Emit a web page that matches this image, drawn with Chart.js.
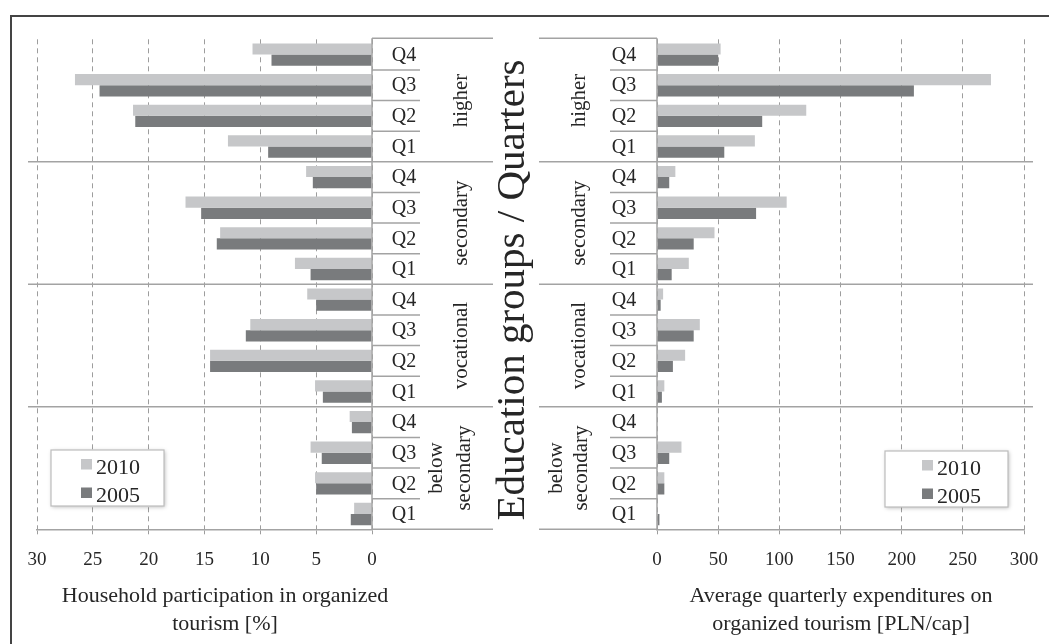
<!DOCTYPE html>
<html>
<head>
<meta charset="utf-8">
<title>Organized tourism by education group</title>
<script src="https://cdn.jsdelivr.net/npm/chart.js@4/dist/chart.umd.min.js"></script>
<style>
  html, body { margin: 0; padding: 0; background: #fff; }
  #wrap { position: relative; width: 1049px; height: 644px; overflow: hidden; background: #fff; }
  #wrap canvas { position: absolute; left: 0; top: 0; }
  #frame { position: absolute; left: 10px; top: 15px; width: 1060px; height: 660px;
           border-left: 2px solid #444; border-top: 2px solid #444; box-sizing: border-box; }
</style>
</head>
<body>
<div id="wrap">
  <div id="frame"></div>
  <canvas id="leftChart" width="1049" height="644"></canvas>
  <canvas id="rightChart" width="1049" height="644"></canvas>
</div>
<script>
// ---- data (rows run top to bottom: group, then Q4..Q1) ----
const groups = ['higher', 'secondary', 'vocational', 'below secondary'];
const groupLines = [['higher'], ['secondary'], ['vocational'], ['below', 'secondary']];
const quarters = ['Q4', 'Q3', 'Q2', 'Q1'];
const years = ['2010', '2005'];

// household participation in organized tourism [%]
const participation2010 = [10.7, 26.6, 21.4, 12.9,  5.9, 16.7, 13.6, 6.9,  5.8, 10.9, 14.5, 5.1,  2.0, 5.5, 5.1, 1.6];
const participation2005 = [ 9.0, 24.4, 21.2,  9.3,  5.3, 15.3, 13.9, 5.5,  5.0, 11.3, 14.5, 4.4,  1.8, 4.5, 5.0, 1.9];

// average quarterly expenditures on organized tourism [PLN/cap]
const expenditure2010 = [52, 273, 122, 80,  15, 106, 47, 26,  5, 35, 23, 6,  0, 20, 6, 0];
const expenditure2005 = [50, 210,  86, 55,  10,  81, 30, 12,  3, 30, 13, 4,  0, 10, 6, 2];

const participationTicks = { min: 0, max: 30, step: 5 };
const expenditureTicks = { min: 0, max: 300, step: 50 };

const participationTitle = ['Household participation in organized', 'tourism [%]'];
const expenditureTitle = ['Average quarterly expenditures on', 'organized tourism [PLN/cap]'];
const centreTitle = 'Education groups / Quarters';

// ---- styling ----
const SERIF = '"Liberation Serif", "DejaVu Serif", serif';
const TEXT = '#262626';
const GRID = '#9d9d9d';
const LINE = '#a3a3a3';
const LIGHT = '#c6c7c9';
const DARK = '#797b7d';

const rowLabels = [];
groups.forEach(() => quarters.forEach(q => rowLabels.push(q)));

function datasets(a, b) {
  return [
    { label: years[0], data: a, backgroundColor: LIGHT, categoryPercentage: 0.73, barPercentage: 1.0 },
    { label: years[1], data: b, backgroundColor: DARK, categoryPercentage: 0.73, barPercentage: 1.0 }
  ];
}

function valueScale(range, reverse) {
  return {
    type: 'linear',
    position: 'bottom',
    reverse: reverse,
    min: range.min,
    max: range.max,
    grid: { color: GRID, lineWidth: 1, drawTicks: true, tickLength: 5, tickColor: GRID },
    border: { display: true, color: LINE, width: 1.5, dash: [5, 4] },
    ticks: { stepSize: range.step, color: TEXT, font: { family: SERIF, size: 19 },
             padding: 14, maxRotation: 0, autoSkip: false },
    afterFit(scale) { scale.height = 644 - 529.3; scale.paddingLeft = 0; scale.paddingRight = 0; }
  };
}

function rowScale() {
  return { type: 'category', labels: rowLabels, display: false, offset: true };
}

// category row geometry from the category scale
function rows(chart) {
  const y = chart.scales.y;
  const step = y.getPixelForValue(1) - y.getPixelForValue(0);
  const top = y.getPixelForValue(0) - step / 2;
  return { top, step, n: rowLabels.length };
}

function line(ctx, x1, y1, x2, y2) {
  ctx.beginPath(); ctx.moveTo(x1, y1); ctx.lineTo(x2, y2); ctx.stroke();
}

// two-line axis title under a panel
function axisTitle(lines, cx) {
  return {
    id: 'axisTitle',
    afterDraw(chart) {
      const ctx = chart.ctx;
      ctx.save();
      ctx.fillStyle = TEXT;
      ctx.font = '22px ' + SERIF;
      ctx.textAlign = 'center';
      ctx.textBaseline = 'alphabetic';
      lines.forEach((t, i) => ctx.fillText(t, cx, 601.5 + i * 28.5));
      ctx.restore();
    }
  };
}

// boxed legend built from the dataset labels and colours
function boxLegend(box) {
  return {
    id: 'boxLegend',
    afterDraw(chart) {
      const ctx = chart.ctx;
      ctx.save();
      ctx.shadowColor = 'rgba(0,0,0,0.28)';
      ctx.shadowBlur = 4;
      ctx.shadowOffsetX = 1;
      ctx.shadowOffsetY = 1;
      ctx.fillStyle = '#fff';
      ctx.fillRect(box.x, box.y, box.w, box.h);
      ctx.shadowColor = 'transparent';
      ctx.strokeStyle = '#bdbdbd';
      ctx.lineWidth = 1.2;
      ctx.strokeRect(box.x, box.y, box.w, box.h);
      ctx.font = '22px ' + SERIF;
      ctx.textAlign = 'left';
      ctx.textBaseline = 'middle';
      chart.data.datasets.forEach((ds, i) => {
        const cy = box.y + 17 + i * 28.5;
        ctx.fillStyle = ds.backgroundColor;
        ctx.fillRect(box.sx, cy - 8, 11, 10.5);
        ctx.fillStyle = TEXT;
        ctx.fillText(ds.label, box.sx + 15, cy + 1);
      });
      ctx.restore();
    }
  };
}

// row table to the right of the participation panel + centre title
const leftTable = {
  id: 'leftTable',
  afterDraw(chart) {
    const ctx = chart.ctx;
    const area = chart.chartArea;
    const r = rows(chart);
    const x0 = area.right;
    const xEnd = x0 + 121;
    const bottom = r.top + r.n * r.step;
    ctx.save();
    ctx.strokeStyle = LINE;
    ctx.lineWidth = 1.5;
    line(ctx, x0, r.top - 1, x0, bottom);
    line(ctx, x0, r.top - 1, xEnd, r.top - 1);
    line(ctx, x0, bottom, xEnd, bottom);
    for (let k = 1; k < r.n; k++) {
      const yy = r.top + k * r.step;
      if (k % quarters.length === 0) line(ctx, area.left - 9, yy, xEnd, yy);
      else line(ctx, x0, yy, x0 + 48, yy);
    }
    ctx.fillStyle = TEXT;
    ctx.font = '20px ' + SERIF;
    ctx.textAlign = 'center';
    ctx.textBaseline = 'middle';
    rowLabels.forEach((q, i) => ctx.fillText(q, x0 + 32, r.top + (i + 0.5) * r.step + 1));
    ctx.font = '21px ' + SERIF;
    ctx.textBaseline = 'alphabetic';
    groupLines.forEach((lines, g) => {
      const cy = r.top + (g + 0.5) * quarters.length * r.step;
      lines.forEach((t, j) => {
        const bx = lines.length === 1 ? x0 + 95 : x0 + 70 + j * 28;
        ctx.save();
        ctx.translate(bx, cy);
        ctx.rotate(-Math.PI / 2);
        ctx.fillText(t, 0, 0);
        ctx.restore();
      });
    });
    ctx.font = '41px ' + SERIF;
    ctx.save();
    ctx.translate(524, 290);
    ctx.rotate(-Math.PI / 2);
    ctx.fillText(centreTitle, 0, 0);
    ctx.restore();
    ctx.restore();
  }
};

// row table to the left of the expenditure panel
const rightTable = {
  id: 'rightTable',
  afterDraw(chart) {
    const ctx = chart.ctx;
    const area = chart.chartArea;
    const r = rows(chart);
    const x0 = area.left;
    const xStart = x0 - 118;
    const bottom = r.top + r.n * r.step;
    ctx.save();
    ctx.strokeStyle = LINE;
    ctx.lineWidth = 1.5;
    line(ctx, x0, r.top - 1, x0, bottom);
    line(ctx, xStart, r.top - 1, x0, r.top - 1);
    line(ctx, xStart, bottom, x0, bottom);
    for (let k = 1; k < r.n; k++) {
      const yy = r.top + k * r.step;
      if (k % quarters.length === 0) line(ctx, xStart, yy, area.right + 9, yy);
      else line(ctx, x0 - 47, yy, x0, yy);
    }
    ctx.fillStyle = TEXT;
    ctx.font = '20px ' + SERIF;
    ctx.textAlign = 'center';
    ctx.textBaseline = 'middle';
    rowLabels.forEach((q, i) => ctx.fillText(q, x0 - 33, r.top + (i + 0.5) * r.step + 1));
    ctx.font = '21px ' + SERIF;
    ctx.textBaseline = 'alphabetic';
    groupLines.forEach((lines, g) => {
      const cy = r.top + (g + 0.5) * quarters.length * r.step;
      lines.forEach((t, j) => {
        const bx = lines.length === 1 ? x0 - 72 : x0 - 95 + j * 25;
        ctx.save();
        ctx.translate(bx, cy);
        ctx.rotate(-Math.PI / 2);
        ctx.fillText(t, 0, 0);
        ctx.restore();
      });
    });
    ctx.restore();
  }
};

const common = {
  indexAxis: 'y',
  responsive: false,
  animation: false,
  events: [],
  plugins: { legend: { display: false }, tooltip: { enabled: false } }
};

new Chart(document.getElementById('leftChart'), {
  type: 'bar',
  data: { labels: rowLabels, datasets: datasets(participation2010, participation2005) },
  options: Object.assign({}, common, {
    layout: { padding: { left: 37, right: 1049 - 372, top: 39.3, bottom: 0 } },
    scales: { x: valueScale(participationTicks, true), y: rowScale() }
  }),
  plugins: [leftTable, axisTitle(participationTitle, 225), boxLegend({ x: 51, y: 450, w: 113, h: 56, sx: 81 })]
});

new Chart(document.getElementById('rightChart'), {
  type: 'bar',
  data: { labels: rowLabels, datasets: datasets(expenditure2010, expenditure2005) },
  options: Object.assign({}, common, {
    layout: { padding: { left: 657, right: 1049 - 1024, top: 39.3, bottom: 0 } },
    scales: { x: valueScale(expenditureTicks, false), y: rowScale() }
  }),
  plugins: [rightTable, axisTitle(expenditureTitle, 841), boxLegend({ x: 885, y: 451, w: 123, h: 56, sx: 922 })]
});
</script>
</body>
</html>
